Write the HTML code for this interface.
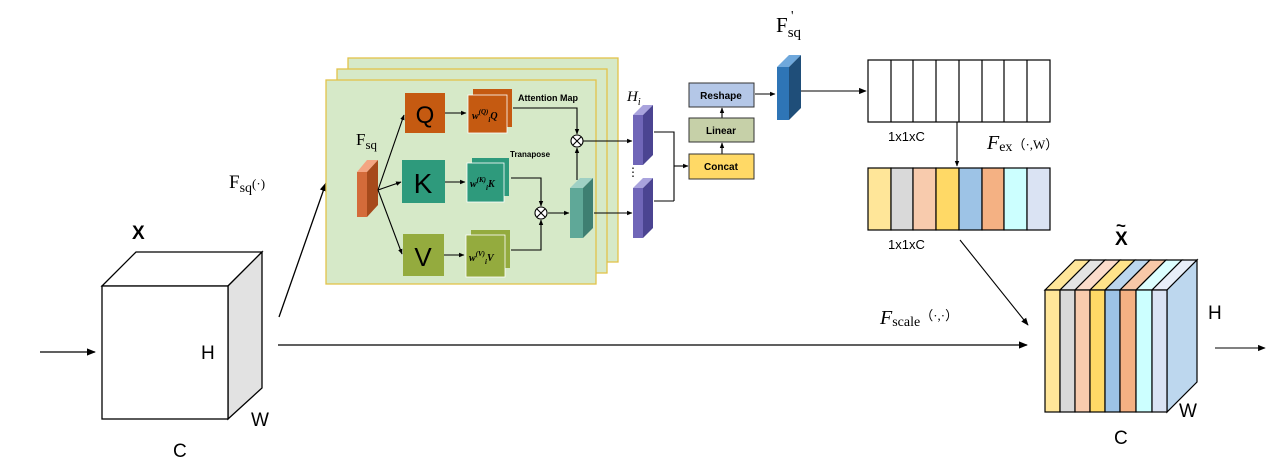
<!DOCTYPE html>
<html><head><meta charset="utf-8"><style>
html,body{margin:0;padding:0;background:#fff;}
svg{display:block;}
text{font-family:"Liberation Sans",sans-serif;}
.serif{font-family:"Liberation Serif",serif;}
</style></head><body>
<svg width="1280" height="472" viewBox="0 0 1280 472" xmlns="http://www.w3.org/2000/svg">
<defs>
<marker id="a" viewBox="0 0 10 10" refX="9" refY="5" markerWidth="7" markerHeight="7" orient="auto"><path d="M0,1 L10,5 L0,9 z" fill="#000"/></marker>
<marker id="s" viewBox="0 0 10 10" refX="9" refY="5" markerWidth="5" markerHeight="5" orient="auto"><path d="M0,1 L10,5 L0,9 z" fill="#000"/></marker>
</defs>
<g stroke="#000" stroke-width="1.3" fill="none">
<polygon points="102,286 136,252 262,252 228,286" fill="#fff"/>
<polygon points="228,286 262,252 262,388 228,419" fill="#e2e2e2"/>
<rect x="102" y="286" width="126" height="133" fill="#fff"/>
<line x1="40" y1="352" x2="95" y2="352" marker-end="url(#a)"/>
<line x1="278" y1="345" x2="1027" y2="345" marker-end="url(#a)"/>
<line x1="279" y1="317" x2="326" y2="183" marker-end="url(#a)"/>
</g>
<text x="132" y="239" font-size="19" font-weight="bold">X</text>
<text x="201" y="359" font-size="19">H</text>
<text x="251" y="426" font-size="19">W</text>
<text x="173" y="457" font-size="19">C</text>
<text class="serif" x="229" y="188" font-size="19">F<tspan font-size="14" dy="4">sq</tspan><tspan font-size="13" dy="-4">(·)</tspan></text>

<rect x="348" y="58" width="270" height="204" fill="#d6e9c8" stroke="#e2c24a" stroke-width="1.3"/>
<rect x="337" y="69" width="270" height="204" fill="#d6e9c8" stroke="#e2c24a" stroke-width="1.3"/>
<rect x="326" y="80" width="270" height="204" fill="#d6e9c8" stroke="#e2c24a" stroke-width="1.3"/>

<polygon points="357,172 367,160 378,160 367,172" fill="#f4a582"/>
<polygon points="367,172 378,160 378,205 367,217" fill="#a64a1c"/>
<rect x="357" y="172" width="10" height="45" fill="#d46b3a"/>
<text class="serif" x="356" y="145" font-size="17">F<tspan font-size="13" dy="4">sq</tspan></text>
<g stroke="#000" stroke-width="1.1" fill="none">
<line x1="378" y1="190" x2="404" y2="115" marker-end="url(#s)"/>
<line x1="378" y1="190" x2="401" y2="182" marker-end="url(#s)"/>
<line x1="378" y1="190" x2="402" y2="254" marker-end="url(#s)"/>
</g>
<rect x="405" y="93" width="40" height="40" fill="#c55a11"/>
<text x="425" y="123" font-size="24" text-anchor="middle">Q</text>
<rect x="402" y="160" width="43" height="43" fill="#2e9a7c"/>
<text x="423" y="193" font-size="28" text-anchor="middle">K</text>
<rect x="403" y="234" width="41" height="42" fill="#94ab3e"/>
<text x="423" y="266" font-size="26" text-anchor="middle">V</text>

<rect x="473" y="89" width="39" height="38" fill="#c55a11"/>
<rect x="468" y="95" width="39" height="38" fill="#c55a11" stroke="#fff" stroke-width="0.8"/>
<text class="serif" x="472" y="119" font-size="10" font-style="italic" font-weight="bold">w<tspan font-size="7" dy="-5">(Q)</tspan><tspan font-size="7" dy="8">i</tspan><tspan font-size="10" dy="-3">Q</tspan></text>
<rect x="472" y="158" width="37" height="38" fill="#2e9a7c"/>
<rect x="467" y="163" width="37" height="39" fill="#2e9a7c" stroke="#fff" stroke-width="0.8"/>
<text class="serif" x="470" y="187" font-size="10" font-style="italic" font-weight="bold">w<tspan font-size="7" dy="-5">(K)</tspan><tspan font-size="7" dy="8">i</tspan><tspan font-size="10" dy="-3">K</tspan></text>
<rect x="471" y="230" width="39" height="38" fill="#94ab3e"/>
<rect x="466" y="235" width="39" height="42" fill="#94ab3e" stroke="#fff" stroke-width="0.8"/>
<text class="serif" x="469" y="261" font-size="10" font-style="italic" font-weight="bold">w<tspan font-size="7" dy="-5">(V)</tspan><tspan font-size="7" dy="8">i</tspan><tspan font-size="10" dy="-3">V</tspan></text>
<text x="518" y="101" font-size="9" font-weight="bold">Attention Map</text>
<text x="510" y="157" font-size="8" font-weight="bold">Tranapose</text>

<g stroke="#000" stroke-width="1.1" fill="none">
<line x1="445" y1="113" x2="466" y2="113" marker-end="url(#s)"/>
<line x1="445" y1="182" x2="465" y2="182" marker-end="url(#s)"/>
<line x1="444" y1="255" x2="464" y2="255" marker-end="url(#s)"/>
<polyline points="513,108 577,108 577,134" marker-end="url(#s)"/>
<polyline points="511,178 541,178 541,206" marker-end="url(#s)"/>
<polyline points="511,250 541,250 541,220" marker-end="url(#s)"/>
<line x1="548" y1="213" x2="569" y2="213" marker-end="url(#s)"/>
<line x1="577" y1="180" x2="577" y2="148" marker-end="url(#s)"/>
<line x1="583" y1="141" x2="632" y2="141" marker-end="url(#s)"/>
<line x1="594" y1="213" x2="632" y2="213" marker-end="url(#s)"/>
<circle cx="577" cy="141" r="6" fill="#fff"/>
<path d="M573,137 L581,145 M581,137 L573,145"/>
<circle cx="541" cy="213" r="6" fill="#fff"/>
<path d="M537,209 L545,217 M545,209 L537,217"/>
</g>
<polygon points="570,188 580,178 593,178 583,188" fill="#9fd0c4"/>
<polygon points="583,188 593,178 593,228 583,238" fill="#3e7f72"/>
<rect x="570" y="188" width="13" height="50" fill="#5fa898"/>

<polygon points="633,115 643,105 653,105 643,115" fill="#a9a3dd"/>
<polygon points="643,115 653,105 653,155 643,165" fill="#4b4491"/>
<rect x="633" y="115" width="10" height="50" fill="#7066b8"/>
<polygon points="633,188 643,178 653,178 643,188" fill="#a9a3dd"/>
<polygon points="643,188 653,178 653,228 643,238" fill="#4b4491"/>
<rect x="633" y="188" width="10" height="50" fill="#7066b8"/>
<text class="serif" x="627" y="101" font-size="15" font-style="italic">H<tspan font-size="10" dy="4">i</tspan></text>
<text x="627" y="176" font-size="12">⋮</text>

<g stroke="#000" stroke-width="1.1" fill="none">
<polyline points="654,132 674,132 674,201"/>
<polyline points="654,201 674,201"/>
<line x1="674" y1="166" x2="688" y2="166" marker-end="url(#s)"/>
<line x1="722" y1="154" x2="722" y2="143" marker-end="url(#s)"/>
<line x1="722" y1="118" x2="722" y2="108" marker-end="url(#s)"/>
<line x1="755" y1="94" x2="775" y2="94" marker-end="url(#s)"/>
<line x1="801" y1="91" x2="866" y2="91" marker-end="url(#a)"/>
</g>
<rect x="689" y="83" width="65" height="24" fill="#b4c7e7" stroke="#333"/>
<text x="721" y="99" font-size="10" font-weight="bold" text-anchor="middle">Reshape</text>
<rect x="689" y="118" width="65" height="24" fill="#c6d0a8" stroke="#333"/>
<text x="721" y="134" font-size="10" font-weight="bold" text-anchor="middle">Linear</text>
<rect x="689" y="154" width="65" height="25" fill="#ffd966" stroke="#333"/>
<text x="721" y="170" font-size="10" font-weight="bold" text-anchor="middle">Concat</text>

<polygon points="777,67 789,55 801,55 789,67" fill="#6fa8dc"/>
<polygon points="789,67 801,55 801,108 789,120" fill="#1f4e79"/>
<rect x="777" y="67" width="12" height="53" fill="#2e75b6"/>
<text class="serif" x="776" y="32" font-size="21">F<tspan font-size="15" dy="5">sq</tspan></text>
<text class="serif" x="791" y="20" font-size="14">'</text>

<g stroke="#000" stroke-width="1.2">
<rect x="868" y="60" width="182" height="62" fill="#fff"/>
<line x1="891" y1="60" x2="891" y2="122"/><line x1="913" y1="60" x2="913" y2="122"/>
<line x1="936" y1="60" x2="936" y2="122"/><line x1="959" y1="60" x2="959" y2="122"/>
<line x1="982" y1="60" x2="982" y2="122"/><line x1="1004" y1="60" x2="1004" y2="122"/>
<line x1="1027" y1="60" x2="1027" y2="122"/>
<rect x="868" y="168" width="23" height="62" fill="#ffe699"/>
<rect x="891" y="168" width="22" height="62" fill="#d9d9d9"/>
<rect x="913" y="168" width="23" height="62" fill="#f8cbad"/>
<rect x="936" y="168" width="23" height="62" fill="#ffd966"/>
<rect x="959" y="168" width="23" height="62" fill="#9dc3e6"/>
<rect x="982" y="168" width="22" height="62" fill="#f4b183"/>
<rect x="1004" y="168" width="23" height="62" fill="#ccffff"/>
<rect x="1027" y="168" width="23" height="62" fill="#dae3f3"/>
</g>
<g stroke="#000" stroke-width="1.1" fill="none">
<line x1="957" y1="122" x2="957" y2="166" marker-end="url(#s)"/>
<line x1="960" y1="240" x2="1028" y2="325" marker-end="url(#a)"/>
<line x1="1215" y1="348" x2="1265" y2="348" marker-end="url(#a)"/>
</g>
<text x="888" y="141" font-size="13">1x1xC</text>
<text x="888" y="249" font-size="13">1x1xC</text>
<text class="serif" x="987" y="149" font-size="20" font-style="italic">F<tspan font-size="14" font-style="normal" dy="2">ex</tspan><tspan font-size="13" font-style="normal" dy="-2">（·,W）</tspan></text>
<text class="serif" x="880" y="324" font-size="20" font-style="italic">F<tspan font-size="14" font-style="normal" dy="2">scale</tspan><tspan font-size="13" font-style="normal" dy="-6">（·,·）</tspan></text>

<g stroke="#000" stroke-width="1.2">
<polygon points="1045,290 1075,260 1090,260 1060,290" fill="#ffe699"/>
<polygon points="1060,290 1090,260 1105,260 1075,290" fill="#e4e4e4"/>
<polygon points="1075,290 1105,260 1120,260 1090,290" fill="#fbdccb"/>
<polygon points="1090,290 1120,260 1135,260 1105,290" fill="#ffe38a"/>
<polygon points="1105,290 1135,260 1150,260 1120,290" fill="#bcd6ee"/>
<polygon points="1120,290 1150,260 1166,260 1136,290" fill="#f8c8a8"/>
<polygon points="1136,290 1166,260 1182,260 1152,290" fill="#dcffff"/>
<polygon points="1152,290 1182,260 1197,260 1167,290" fill="#e8eef8"/>
<polygon points="1167,290 1197,260 1197,382 1167,412" fill="#bdd7ee"/>
<rect x="1045" y="290" width="15" height="122" fill="#ffe699"/>
<rect x="1060" y="290" width="15" height="122" fill="#d9d9d9"/>
<rect x="1075" y="290" width="15" height="122" fill="#f8cbad"/>
<rect x="1090" y="290" width="15" height="122" fill="#ffd966"/>
<rect x="1105" y="290" width="15" height="122" fill="#9dc3e6"/>
<rect x="1120" y="290" width="16" height="122" fill="#f4b183"/>
<rect x="1136" y="290" width="16" height="122" fill="#ccffff"/>
<rect x="1152" y="290" width="15" height="122" fill="#dae3f3"/>
</g>
<text x="1115" y="245" font-size="19" font-weight="bold">X</text>
<text x="1116" y="231" font-size="17" font-weight="bold">~</text>
<text x="1208" y="319" font-size="19">H</text>
<text x="1179" y="417" font-size="19">W</text>
<text x="1114" y="444" font-size="19">C</text>
</svg>
</body></html>
